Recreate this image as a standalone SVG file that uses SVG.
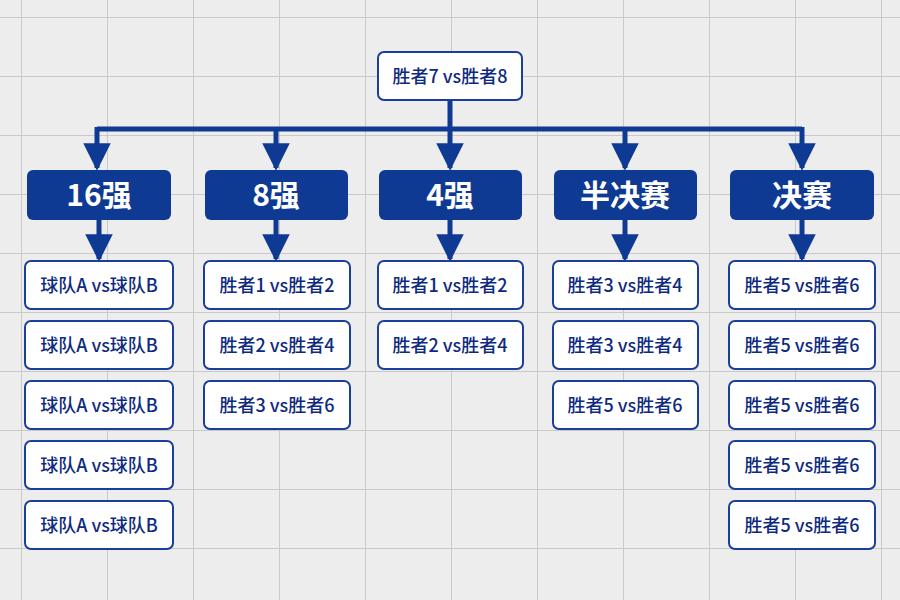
<svg xmlns="http://www.w3.org/2000/svg" width="900" height="600" viewBox="0 0 900 600">
<defs>
<pattern id="grid" x="21" y="17" width="86" height="59" patternUnits="userSpaceOnUse">
<path d="M0 0V59M0 0H86" fill="none" stroke="#c9c9cc" stroke-width="2"/>
</pattern>
<marker id="ah" viewBox="0 0 10 10" refX="9" refY="5" markerWidth="5.5" markerHeight="5.5" orient="auto" markerUnits="strokeWidth">
<path d="M0 0L10 5L0 10Z" fill="#0e3a94"/>
</marker>
</defs>
<style>
.hd rect{fill:#0e3a94}
.hd text{fill:#fff;font-size:30px;font-weight:bold;font-family:"Noto Sans CJK SC","Noto Sans",sans-serif;text-anchor:middle}
.it rect{fill:#fff;stroke:#1b3f98;stroke-width:2}
.it text{fill:#0e2a80;font-size:18px;font-weight:500;font-family:"Noto Sans CJK SC","Noto Sans",sans-serif;text-anchor:middle}
.cn{fill:none;stroke:#0e3a94;stroke-width:5}
</style>
<rect width="900" height="600" fill="#ededee"/>
<rect width="900" height="600" fill="url(#grid)"/>
<g id="connectors">
<path class="cn" d="M450 100V129M97 129H802"/>
<path class="cn" d="M97 127V168" marker-end="url(#ah)"/>
<path class="cn" d="M276 129V168" marker-end="url(#ah)"/>
<path class="cn" d="M450 129V168" marker-end="url(#ah)"/>
<path class="cn" d="M625 129V168" marker-end="url(#ah)"/>
<path class="cn" d="M802 127V168" marker-end="url(#ah)"/>
<path class="cn" d="M99 220V259" marker-end="url(#ah)"/>
<path class="cn" d="M276 220V259" marker-end="url(#ah)"/>
<path class="cn" d="M450 220V259" marker-end="url(#ah)"/>
<path class="cn" d="M625 220V259" marker-end="url(#ah)"/>
<path class="cn" d="M802 220V259" marker-end="url(#ah)"/>
</g>
<g id="top" class="it"><rect x="378" y="52" width="144" height="48" rx="6"/><text x="450" y="83">胜者7 vs胜者8</text></g>
<g id="h16" class="hd"><rect x="27" y="170" width="144" height="50" rx="6"/><text x="99" y="206">16强</text></g>
<g id="h8" class="hd"><rect x="205" y="170" width="143" height="50" rx="6"/><text x="276" y="206">8强</text></g>
<g id="h4" class="hd"><rect x="379" y="170" width="143" height="50" rx="6"/><text x="450" y="206">4强</text></g>
<g id="hsf" class="hd"><rect x="554" y="170" width="143" height="50" rx="6"/><text x="625" y="206">半决赛</text></g>
<g id="hf" class="hd"><rect x="730" y="170" width="144" height="50" rx="6"/><text x="802" y="206">决赛</text></g>
<g id="a1" class="it"><rect x="25" y="261" width="148" height="48" rx="6"/><text x="99" y="292">球队A vs球队B</text></g>
<g id="a2" class="it"><rect x="25" y="321" width="148" height="48" rx="6"/><text x="99" y="352">球队A vs球队B</text></g>
<g id="a3" class="it"><rect x="25" y="381" width="148" height="48" rx="6"/><text x="99" y="412">球队A vs球队B</text></g>
<g id="a4" class="it"><rect x="25" y="441" width="148" height="48" rx="6"/><text x="99" y="472">球队A vs球队B</text></g>
<g id="a5" class="it"><rect x="25" y="501" width="148" height="48" rx="6"/><text x="99" y="532">球队A vs球队B</text></g>
<g id="b1" class="it"><rect x="204" y="261" width="146" height="48" rx="6"/><text x="277" y="292">胜者1 vs胜者2</text></g>
<g id="b2" class="it"><rect x="204" y="321" width="146" height="48" rx="6"/><text x="277" y="352">胜者2 vs胜者4</text></g>
<g id="b3" class="it"><rect x="204" y="381" width="146" height="48" rx="6"/><text x="277" y="412">胜者3 vs胜者6</text></g>
<g id="c1" class="it"><rect x="378" y="261" width="145" height="48" rx="6"/><text x="450" y="292">胜者1 vs胜者2</text></g>
<g id="c2" class="it"><rect x="378" y="321" width="145" height="48" rx="6"/><text x="450" y="352">胜者2 vs胜者4</text></g>
<g id="d1" class="it"><rect x="553" y="261" width="145" height="48" rx="6"/><text x="625" y="292">胜者3 vs胜者4</text></g>
<g id="d2" class="it"><rect x="553" y="321" width="145" height="48" rx="6"/><text x="625" y="352">胜者3 vs胜者4</text></g>
<g id="d3" class="it"><rect x="553" y="381" width="145" height="48" rx="6"/><text x="625" y="412">胜者5 vs胜者6</text></g>
<g id="e1" class="it"><rect x="729" y="261" width="146" height="48" rx="6"/><text x="802" y="292">胜者5 vs胜者6</text></g>
<g id="e2" class="it"><rect x="729" y="321" width="146" height="48" rx="6"/><text x="802" y="352">胜者5 vs胜者6</text></g>
<g id="e3" class="it"><rect x="729" y="381" width="146" height="48" rx="6"/><text x="802" y="412">胜者5 vs胜者6</text></g>
<g id="e4" class="it"><rect x="729" y="441" width="146" height="48" rx="6"/><text x="802" y="472">胜者5 vs胜者6</text></g>
<g id="e5" class="it"><rect x="729" y="501" width="146" height="48" rx="6"/><text x="802" y="532">胜者5 vs胜者6</text></g>
</svg>
